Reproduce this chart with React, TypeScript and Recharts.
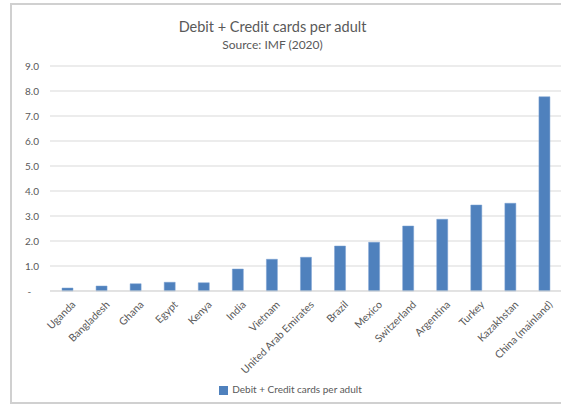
import React from "react";
import { BarChart, Bar, XAxis, YAxis, CartesianGrid, Legend } from "recharts";

const countries = [
  "Uganda",
  "Bangladesh",
  "Ghana",
  "Egypt",
  "Kenya",
  "India",
  "Vietnam",
  "United Arab Emirates",
  "Brazil",
  "Mexico",
  "Switzerland",
  "Argentina",
  "Turkey",
  "Kazakhstan",
  "China (mainland)",
];

const cardsPerAdult = [
  0.12, 0.2, 0.29, 0.35, 0.33, 0.88, 1.27, 1.35, 1.8, 1.95, 2.6, 2.87, 3.44, 3.51, 7.77,
];

const yTicks = [0, 1, 2, 3, 4, 5, 6, 7, 8, 9];

const seriesName = "Debit + Credit cards per adult";
const title = "Debit + Credit cards per adult";
const subtitle = "Source: IMF (2020)";

const data = countries.map((c, i) => ({ country: c, value: cardsPerAdult[i] }));

const FONT = "Lato, 'Liberation Sans', sans-serif";
const TEXT = "#595959";

export default function App() {
  return (
    <div style={{ position: "absolute", left: 0, top: 0, width: 561, height: 407, background: "#fff", overflow: "hidden", fontFamily: FONT }}>
      <div
        style={{
          position: "absolute",
          left: 10,
          top: 3,
          width: 620,
          height: 401,
          border: "2px solid #d0d0d0",
          boxSizing: "border-box",
        }}
      />
      <div style={{ position: "absolute", left: 0, width: 545, top: 18, textAlign: "center", fontSize: 14.5, color: TEXT }}>
        {title}
      </div>
      <div style={{ position: "absolute", left: 0, width: 545, top: 37, textAlign: "center", fontSize: 12, color: TEXT }}>
        {subtitle}
      </div>
      <div style={{ position: "absolute", left: 0, top: 0 }}>
        <BarChart width={561} height={407} data={data} margin={{ top: 66, right: 0, left: 0, bottom: 4 }}>
          <CartesianGrid vertical={false} stroke="#d9d9d9" />
          <XAxis
            dataKey="country"
            interval={0}
            height={92}
            axisLine={{ stroke: "#d9d9d9" }}
            tickLine={false}
            angle={-45}
            textAnchor="end"
            tick={{ fontSize: 10.5, fill: TEXT, fontFamily: FONT }}
            dx={4}
            dy={1}
          />
          <YAxis
            width={50}
            domain={[0, 9]}
            ticks={yTicks}
            axisLine={false}
            tickLine={false}
            tickFormatter={(v: number) => (v === 0 ? "-\u00A0\u00A0\u00A0" : v.toFixed(1))}
            tick={{ fontSize: 10, fill: TEXT, fontFamily: FONT }}
            dx={-3}
          />
          <Legend
            verticalAlign="bottom"
            iconType="square"
            iconSize={9}
            wrapperStyle={{ height: 20, fontSize: 10, fontFamily: FONT, left: 15 }}
            formatter={(v: string) => <span style={{ color: TEXT }}>{v}</span>}
          />
          <Bar
            dataKey="value"
            name={seriesName}
            fill="#4f81bd"
            stroke="#7aa1d2"
            strokeWidth={0.5}
            barSize={11}
            isAnimationActive={false}
          />
        </BarChart>
      </div>
    </div>
  );
}
